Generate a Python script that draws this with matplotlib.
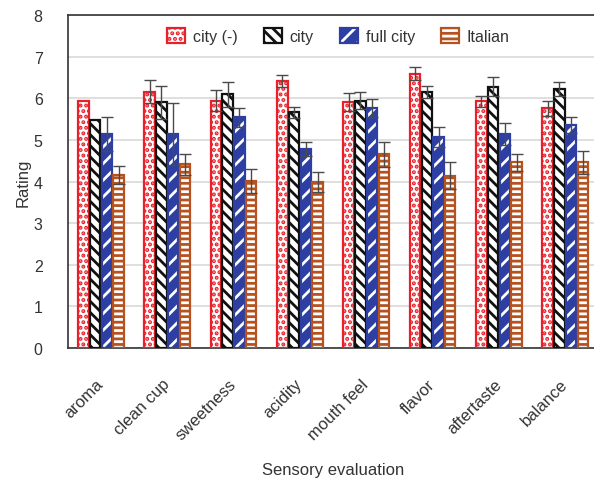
import matplotlib
matplotlib.use("Agg")
import matplotlib.pyplot as plt
import numpy as np
from matplotlib.patches import Patch

plt.rcParams['font.family'] = ['Liberation Sans', 'DejaVu Sans']
plt.rcParams['hatch.linewidth'] = 2.0

categories = ["aroma", "clean cup", "sweetness", "acidity", "mouth feel", "flavor", "aftertaste", "balance"]
series_names = ["city (-)", "city", "full city", "Italian"]
city_minus = [5.93, 6.16, 5.94, 6.41, 5.91, 6.59, 5.93, 5.76]
city_minus_err = [0.0, 0.28, 0.25, 0.14, 0.21, 0.15, 0.13, 0.18]
city = [5.47, 5.90, 6.10, 5.66, 5.94, 6.15, 6.28, 6.23]
city_err = [0.0, 0.40, 0.30, 0.13, 0.21, 0.15, 0.22, 0.17]
full_city = [5.14, 5.14, 5.54, 4.78, 5.76, 5.07, 5.14, 5.35]
full_city_err = [0.40, 0.74, 0.22, 0.16, 0.22, 0.24, 0.27, 0.19]
italian = [4.15, 4.41, 4.01, 3.98, 4.65, 4.14, 4.46, 4.46]
italian_err = [0.22, 0.26, 0.29, 0.24, 0.30, 0.32, 0.21, 0.27]

values = [city_minus, city, full_city, italian]
errors = [city_minus_err, city_err, full_city_err, italian_err]

RED = "#e8202a"
BLACK = "#111111"
BLUE = "#2d3fa3"
BROWN = "#b5521f"

fig = plt.figure(figsize=(5.94, 4.85), dpi=100)
ax = fig.add_axes([0.114, 0.2804, 0.8936, 0.6866])

x = np.arange(len(categories))
slot = 0.177
bw = 0.158
offsets = (np.arange(4) - 1.5) * slot

# styles: (facecolor, hatchcolor, hatch, edgecolor)
styles = [
    ("white", RED, "...", RED),
    ("white", BLACK, "\\\\\\", BLACK),
    (BLUE, "white", "//", BLUE),
    (BROWN, "white", "---", BROWN),
]

ax.set_axisbelow(True)
ax.yaxis.grid(True, color="#d9d9d9", linewidth=1.2)

handles = []
for i in range(4):
    fc, hc, hatch, ec = styles[i]
    xs = x + offsets[i]
    ax.bar(xs, values[i], bw, color=fc, edgecolor=hc, hatch=hatch, linewidth=0, zorder=2)
    ax.bar(xs, values[i], bw, facecolor="none", edgecolor=ec, linewidth=1.6, zorder=3)
    for xi, v, e in zip(xs, values[i], errors[i]):
        if e > 0:
            ax.errorbar(xi, v, yerr=e, fmt="none", ecolor="#4a4a4a", elinewidth=1.0,
                        capsize=4, capthick=1.0, zorder=4)
    handles.append((Patch(facecolor=fc, edgecolor=hc, hatch=hatch, linewidth=0),
                    Patch(facecolor="none", edgecolor=ec, linewidth=1.6)))

ax.set_xlim(-0.5, len(categories) - 0.5)
ax.set_ylim(0, 8)
ax.set_yticks(range(0, 9))
ax.set_xticks(x)
ax.set_xticklabels(categories, rotation=45, ha="right", va="center", rotation_mode="anchor",
                   fontsize=12, color="#333333")
ax.tick_params(axis="y", labelsize=11.5, colors="#333333", length=0, pad=18)
ax.tick_params(axis="x", length=0, pad=24)
for s in ax.spines.values():
    s.set_color("#333333")
    s.set_linewidth(1.2)

ax.set_ylabel("Rating", fontsize=12, color="#333333", labelpad=2)
ax.set_xlabel("Sensory evaluation", fontsize=12, color="#333333", labelpad=14)

leg = ax.legend(handles, series_names, loc="upper center", bbox_to_anchor=(0.51, 1.0), ncol=4,
                frameon=False, fontsize=11.5, handlelength=1.1, handleheight=1.1,
                columnspacing=1.65, handletextpad=0.5, borderaxespad=0.4)
for t in leg.get_texts():
    t.set_color("#333333")

fig.savefig("out.png", dpi=100)
